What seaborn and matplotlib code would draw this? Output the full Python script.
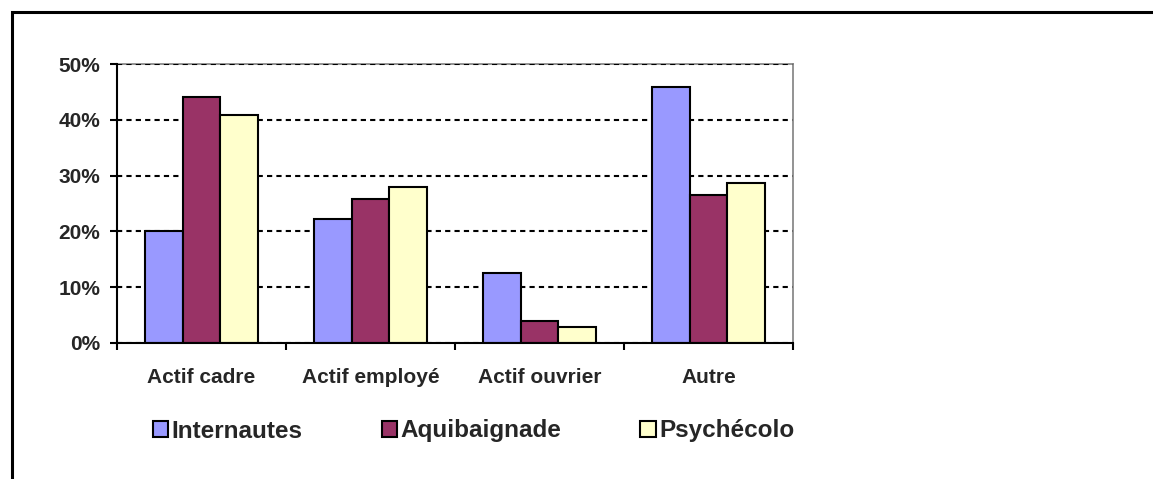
import matplotlib
matplotlib.use("Agg")
import matplotlib.pyplot as plt
import matplotlib.patches as mpatches
from matplotlib.ticker import PercentFormatter, FixedLocator, NullFormatter
import seaborn as sns
import pandas as pd

# données (en %)
categories = ['Actif cadre', 'Actif employé', 'Actif ouvrier', 'Autre']
series = ['Internautes', 'Aquibaignade', 'Psychécolo']
internautes = [20.0, 22.2, 12.5, 45.8]
aquibaignade = [44.0, 25.8, 3.9, 26.5]
psychecolo = [40.9, 28.0, 2.9, 28.6]
couleurs = ['#9999FF', '#993366', '#FFFFCC']

sns.set_style("white")
plt.rcParams['font.family'] = ['Liberation Sans', 'DejaVu Sans']

df = pd.DataFrame({
    'categorie': categories * 3,
    'serie': [s for s in series for _ in categories],
    'valeur': internautes + aquibaignade + psychecolo,
})

W, H = 1153, 479
fig = plt.figure(figsize=(W / 100, H / 100), dpi=100)
ax = fig.add_axes([117 / W, 1 - 343 / H, 676 / W, 279 / H])

sns.barplot(data=df, x='categorie', y='valeur', hue='serie', order=categories,
            hue_order=series, palette=couleurs, width=0.67, saturation=1,
            edgecolor='black', linewidth=1.5, ax=ax)

handles, labels = ax.get_legend_handles_labels()
ax.get_legend().remove()

ax.set_xlim(-0.5, 3.5)
ax.set_ylim(0, 50)
ax.set_yticks([0, 10, 20, 30, 40, 50])
ax.yaxis.set_major_formatter(PercentFormatter(100, decimals=0))
ax.yaxis.grid(True, color='black', linestyle=(0, (2.5, 2.0)), linewidth=1.5)
ax.set_axisbelow(True)
ax.set_xlabel('')
ax.set_ylabel('')

for side in ['left', 'bottom']:
    ax.spines[side].set_color('black')
    ax.spines[side].set_linewidth(1.5)
for side in ['top', 'right']:
    ax.spines[side].set_visible(True)
    ax.spines[side].set_color('#808080')
    ax.spines[side].set_linewidth(1.2)
ax.spines['top'].set_zorder(0.4)

ax.tick_params(axis='y', direction='out', length=5, width=1.5, color='black',
               left=True, pad=7, labelsize=15)
for t in ax.get_yticklabels():
    t.set_fontweight('bold')

# étiquettes de catégories centrées, graduations aux limites
ax.tick_params(axis='x', which='major', length=0, pad=18, labelsize=15)
ax.xaxis.set_minor_locator(FixedLocator([-0.5, 0.5, 1.5, 2.5, 3.5]))
ax.xaxis.set_minor_formatter(NullFormatter())
ax.tick_params(axis='x', which='minor', direction='out', length=5, width=1.5,
               color='black', bottom=True)
for t in ax.get_xticklabels():
    t.set_fontweight('bold')

leg = fig.legend(handles, labels, loc='center left',
                 bbox_to_anchor=(141 / W, 1 - 431 / H), bbox_transform=fig.transFigure,
                 ncol=3, frameon=False, borderpad=0, handlelength=0.62,
                 handleheight=0.66, handletextpad=0.15, columnspacing=3.25,
                 prop={'weight': 'bold', 'size': 17.5})
for h in leg.legend_handles:
    h.set_edgecolor('black')
    h.set_linewidth(1.5)

# cadre extérieur (coupé à droite et en bas)
fig.add_artist(mpatches.Rectangle((11.5 / W, -0.1), 1.2, 1.1 - 12.5 / H,
                                  transform=fig.transFigure, fill=False,
                                  edgecolor='black', linewidth=2.2))

fig.savefig('out.png', dpi=100)
